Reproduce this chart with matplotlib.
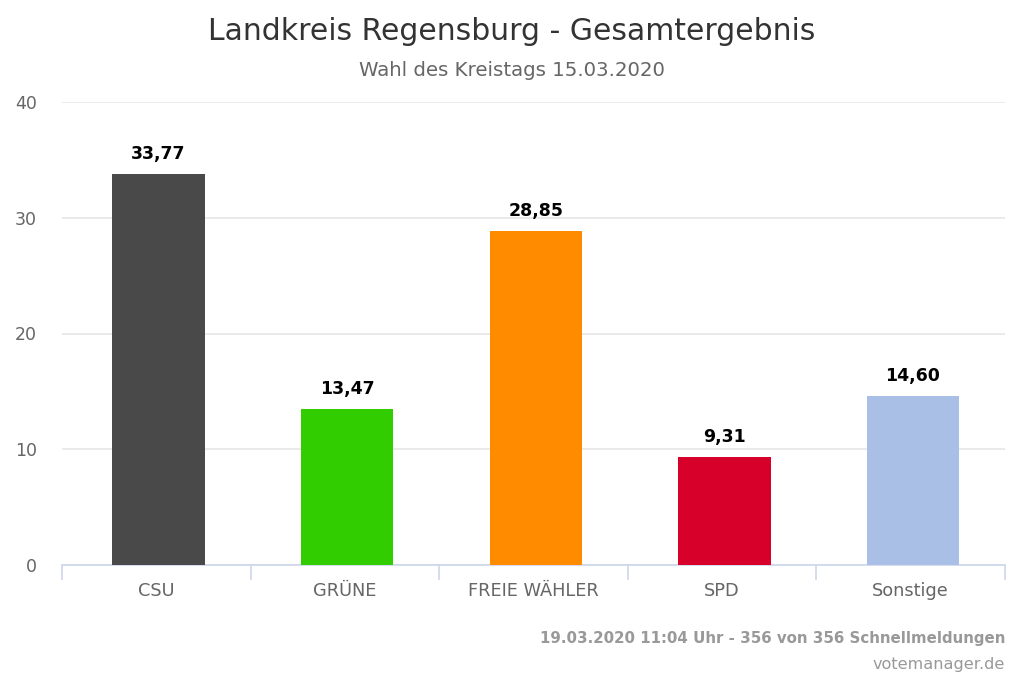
import numpy as np
import matplotlib
matplotlib.use('Agg')
import matplotlib.pyplot as plt

parteien = ['CSU', 'GRÜNE', 'FREIE WÄHLER', 'SPD', 'Sonstige']
anteile = [33.77, 13.47, 28.85, 9.31, 14.60]
farben = ['#494949', '#32cd00', '#ff8c00', '#d7002b', '#aabfe6']
yticks = [0, 10, 20, 30, 40]

plt.rcParams['font.family'] = 'sans-serif'
plt.rcParams['font.sans-serif'] = ['DejaVu Sans']

fig = plt.figure(figsize=(10.24, 6.83), dpi=100)
ax = fig.add_axes([62/1024, 1-565/683, (1005-62)/1024, (565-102)/683])

x = np.arange(len(parteien))
ax.bar(x + 0.012, anteile, width=0.49, color=farben, zorder=3)
for xi, v in zip(x, anteile):
    ax.annotate(('%.2f' % v).replace('.', ','), (xi + 0.012, v), xytext=(0, 8),
                textcoords='offset points', ha='center', va='bottom',
                fontsize=12.5, fontweight='bold', color='black')

ax.set_xlim(-0.5, len(parteien) - 0.5)
ax.set_ylim(0, 40)
ax.set_yticks(yticks)
ax.set_yticklabels([str(t) for t in yticks], fontsize=12.5, color='#666666')
ax.yaxis.grid(True, color='#e6e6e6', linewidth=1.2, zorder=0)
ax.tick_params(axis='y', length=0, pad=18)

# Kategorien + Trennstriche
ax.set_xticks(x)
ax.set_xticklabels(parteien, fontsize=12.8, color='#666666')
ax.tick_params(axis='x', length=0, pad=12)
ax.set_xticks(np.arange(-0.5, len(parteien)), minor=True)
ax.tick_params(axis='x', which='minor', length=11, color='#ccd6eb', width=1.2)

for s in ['top', 'right', 'left']:
    ax.spines[s].set_visible(False)
ax.spines['bottom'].set_color('#ccd6eb')
ax.spines['bottom'].set_linewidth(1.2)

fig.text(0.5, 1-32/683, 'Landkreis Regensburg - Gesamtergebnis', ha='center',
         va='center', fontsize=21.5, color='#333333')
fig.text(0.5, 1-71/683, 'Wahl des Kreistags 15.03.2020', ha='center',
         va='center', fontsize=14.2, color='#666666')
fig.text(1005/1024, 1-638/683, '19.03.2020 11:04 Uhr - 356 von 356 Schnellmeldungen',
         ha='right', va='center', fontsize=10.8, fontweight='bold', color='#999999')
fig.text(1005/1024, 1-665/683, 'votemanager.de', ha='right', va='center',
         fontsize=11.6, color='#999999')

plt.savefig('out.png', dpi=100)
plt.close('all')
